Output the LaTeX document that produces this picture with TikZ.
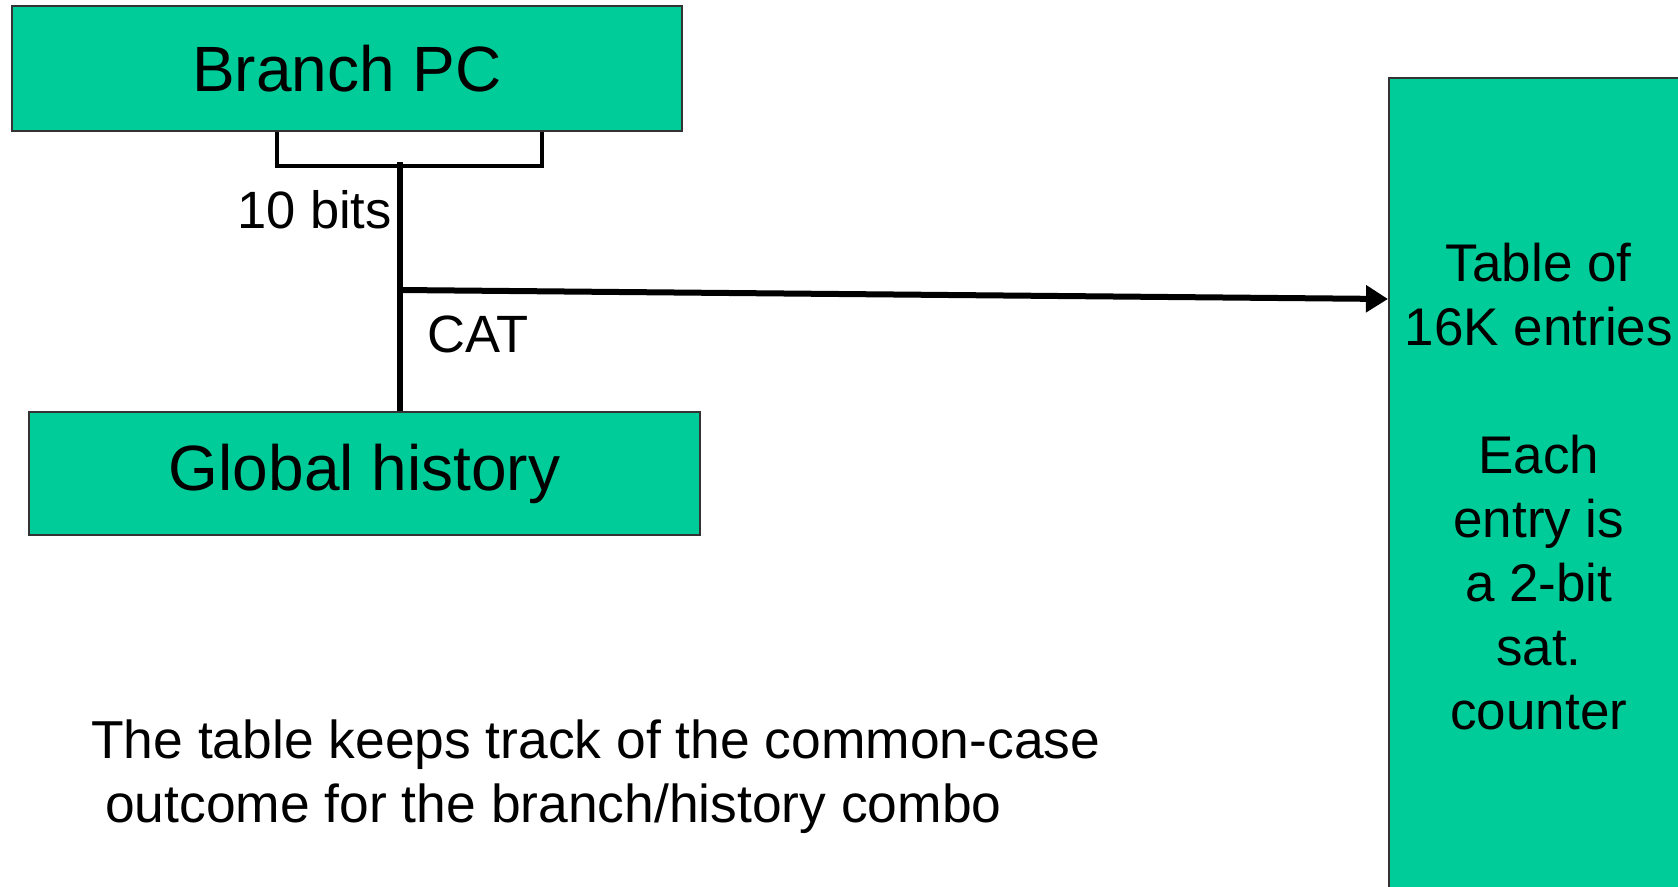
\documentclass[tikz,border=0pt]{standalone}
\usepackage{fontspec}
\setmainfont{Liberation Sans}
\usetikzlibrary{arrows.meta}
\definecolor{boxgreen}{RGB}{0,204,153}
\begin{document}
\begin{tikzpicture}[x=1pt,y=-1pt,
  box/.style={draw=black!80, line width=1.5pt, fill=boxgreen, inner sep=0pt, font=\fontsize{64}{64}\selectfont},
  wire/.style={line width=6pt},
  brk/.style={line width=4pt},
  lbl/.style={inner sep=0pt, font=\fontsize{52.5}{64}\selectfont},
  notelbl/.style={inner sep=0pt, font=\fontsize{53.4}{64}\selectfont}]
\useasboundingbox (0,0) rectangle (1678,886);
% boxes
\node[box, minimum width=670pt, minimum height=125pt] (bpc) at (347,68.5) {Branch PC};
\node[box, minimum width=671pt, minimum height=123pt] (gh) at (364.5,473.5) {Global history};
\node[box, font=\fontsize{53}{64}\selectfont, align=center,
      minimum width=300pt, minimum height=818pt, anchor=north west] (tbl) at (1388,77)
  {Table of\\16K entries\\[64pt]Each\\entry is\\a 2-bit\\sat.\\counter};
% bracket
\coordinate (bl) at (277,166);
\coordinate (br) at (542,166);
\draw[gray!60, line width=3pt, shift={(0,3)}] (bl) -- (br);
\draw[brk] (bl |- bpc.south) -- (bl) -- (br) -- (br |- bpc.south);
% vertical wire
\coordinate (top) at (400,162);
\draw[wire] (top) -- (top |- gh.north);
% arrow to table
\coordinate (split) at (400,290);
\coordinate (tip) at (1388,299);
\draw[wire, -{Triangle[length=22pt,width=26pt]}] (split) -- (tip);
% labels
\node[lbl, anchor=base east] (bits) at (392,228) {10 bits};
\node[lbl, anchor=base west] (cat) at (427,352) {CAT};
\node[notelbl, anchor=base west] (note1) at (91,758) {The table keeps track of the common-case};
\node[notelbl, anchor=base west] (note2) at (105,822) {outcome for the branch/history combo};
\end{tikzpicture}
\end{document}
